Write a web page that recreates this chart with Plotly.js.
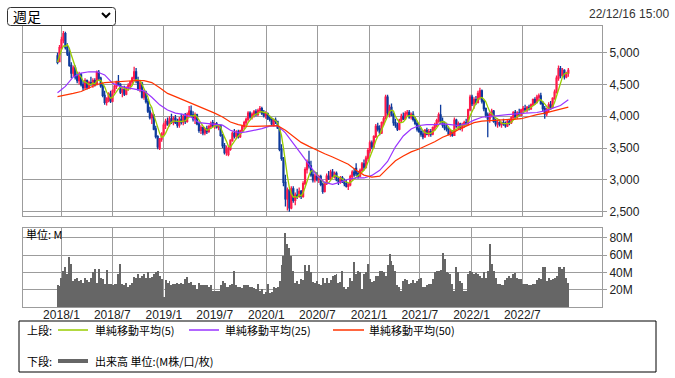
<!DOCTYPE html>
<html><head><meta charset="utf-8">
<script src="https://cdn.plot.ly/plotly-3.0.1.min.js"></script>
<style>html,body{margin:0;padding:0;background:#fff;}#chart{width:675px;height:378px;}</style>
</head><body><div id="chart"></div>
<script>
// ---- data (weekly, first week 2017-12-18) ----
const firstWeek = '2017-12-18';
const openP = [
4950,4860,5080,5200,5300,5080,4980,4800,4680,4760,
4620,4560,4650,4500,4450,4560,4460,4530,4500,4560,
4500,4690,4600,4480,4330,4220,4250,4350,4240,4400,
4470,4550,4500,4380,4420,4350,4450,4480,4540,4600,
4700,4560,4440,4520,4300,4380,4230,4080,3980,4020,
3800,3680,3500,3640,3720,3860,3920,3880,3960,3910,
3970,3900,3860,3950,3910,4000,3920,4030,4080,4020,
3960,4020,3880,3780,3820,3740,3800,3760,3840,3900,
3860,3880,3830,3860,3700,3540,3430,3400,3480,3620,
3730,3690,3750,3680,3770,3840,3900,3950,4050,3990,
4030,4070,4030,4090,4120,4050,4010,4040,3990,3950,
3870,3940,3920,3820,3480,3340,2960,2700,2840,2560,
2860,2680,2760,2740,2820,2740,2940,3160,3280,3220,
3080,3000,3060,3010,3050,2930,2820,2940,3060,3020,
3120,3060,3100,3000,2960,3030,2980,2940,2900,2920,
3050,3120,3180,3100,3060,3150,3250,3200,3340,3460,
3580,3520,3680,3840,3800,3740,3900,3960,4300,4060,
4140,4020,3900,3860,3800,3940,4000,3960,4040,4060,
3990,4030,3950,3890,3800,3760,3720,3680,3780,3720,
3760,3720,3820,3860,3930,4020,3920,3860,3820,3800,
3720,3760,3700,3940,3850,3880,3820,3860,3900,3880,
4100,4300,4200,4260,4220,4300,4400,4240,4120,4020,
3960,4030,4080,3920,3880,3900,3870,3900,3880,3850,
3920,3900,3980,4060,3990,4050,4020,4100,4120,4100,
4140,4120,4180,4260,4220,4300,4320,4200,4120,4040,
4100,4180,4140,4280,4380,4600,4750,4640,4720,4620,
4680];
const highP = [
5000,5120,5250,5340,5330,5150,5050,4850,4800,4800,
4700,4700,4680,4560,4600,4580,4560,4620,4600,4600,
4720,4730,4620,4520,4400,4300,4380,4400,4420,4500,
4560,4650,4520,4440,4480,4470,4520,4560,4620,4780,
4760,4620,4560,4540,4420,4400,4280,4150,4060,4030,
3850,3700,3660,3750,3900,3960,3980,4000,4040,4000,
4020,3960,3990,4040,4020,4050,4060,4160,4170,4080,
4060,4040,3920,3860,3840,3820,3850,3860,3920,3940,
3900,3910,3880,3870,3720,3580,3540,3520,3640,3760,
3800,3780,3790,3790,3860,3930,3980,4080,4080,4060,
4100,4110,4120,4160,4150,4100,4080,4060,4010,3980,
3960,3980,3930,3830,3560,3360,3080,2880,2860,2900,
2900,2800,2860,2880,2840,2980,3200,3320,3460,3300,
3150,3100,3120,3080,3080,2960,2960,3100,3140,3160,
3170,3130,3130,3040,3060,3060,3020,3000,2950,3080,
3150,3180,3260,3140,3180,3280,3320,3380,3500,3620,
3620,3700,3880,3900,3860,3920,4000,4340,4340,4180,
4200,4060,3960,3900,3960,4040,4060,4080,4100,4100,
4060,4080,3990,3930,3880,3820,3780,3800,3820,3800,
3800,3840,3900,3960,4060,4180,3980,3920,3900,3840,
3800,3780,3980,3960,3920,3900,3900,3930,3960,4120,
4340,4340,4300,4320,4400,4450,4420,4260,4140,4060,
4060,4120,4100,3960,3940,3950,3920,3960,3920,3940,
3960,4000,4080,4100,4080,4120,4120,4160,4180,4160,
4180,4200,4280,4300,4340,4360,4370,4240,4160,4140,
4220,4240,4300,4420,4640,4800,4790,4760,4740,4700,
4760];
const lowP = [
4820,4850,5050,5150,5050,4950,4780,4600,4620,4580,
4520,4500,4470,4400,4420,4420,4430,4480,4450,4470,
4490,4560,4450,4300,4180,4170,4220,4210,4220,4360,
4430,4480,4350,4300,4320,4330,4400,4420,4500,4560,
4520,4400,4380,4280,4260,4200,4050,3950,3880,3780,
3650,3480,3470,3600,3700,3800,3850,3840,3880,3860,
3880,3820,3820,3870,3860,3880,3900,4000,3980,3920,
3880,3860,3740,3720,3700,3700,3720,3740,3800,3830,
3800,3810,3780,3680,3500,3400,3380,3370,3460,3600,
3650,3640,3650,3660,3740,3800,3860,3920,3960,3950,
3980,4000,4000,4050,4020,3980,3960,3940,3920,3850,
3840,3880,3800,3450,3300,2900,2580,2520,2500,2540,
2640,2600,2700,2720,2700,2720,2920,3100,3180,3050,
2960,2960,2980,2950,2900,2780,2800,2920,3000,3000,
3040,3020,2980,2920,2940,2950,2900,2880,2840,2900,
3000,3050,3060,3020,3040,3120,3150,3180,3300,3420,
3480,3500,3660,3760,3700,3720,3860,3950,4000,3980,
4000,3850,3820,3770,3780,3900,3940,3940,4000,3960,
3950,3920,3860,3760,3740,3680,3640,3660,3700,3680,
3680,3700,3780,3830,3900,3880,3820,3780,3760,3700,
3680,3680,3690,3820,3800,3780,3760,3820,3850,3860,
4080,4160,4120,4180,4200,4260,4200,4080,3980,3670,
3900,3980,3900,3840,3820,3840,3820,3850,3820,3830,
3860,3880,3960,3960,3960,4000,4000,4040,4080,4060,
4090,4100,4160,4180,4200,4240,4180,4080,3960,4000,
4060,4100,4120,4260,4360,4560,4600,4620,4580,4600,
4620];
const closeP = [
4850,5080,5200,5300,5080,4980,4800,4680,4760,4620,
4560,4650,4500,4450,4560,4460,4530,4500,4560,4500,
4690,4600,4480,4330,4220,4280,4350,4240,4400,4470,
4540,4500,4380,4420,4350,4450,4480,4540,4600,4700,
4560,4440,4520,4300,4380,4230,4080,3980,4020,3800,
3680,3520,3640,3720,3860,3920,3880,3960,3910,3970,
3900,3860,3950,3910,4000,3920,4030,4080,4020,3960,
4020,3880,3780,3820,3740,3800,3760,3840,3880,3860,
3880,3830,3860,3700,3540,3430,3500,3480,3620,3730,
3690,3750,3680,3770,3840,3900,3950,4050,3990,4030,
4070,4030,4090,4120,4050,4010,4040,3970,3950,3880,
3940,3920,3820,3480,3340,2960,2700,2840,2560,2860,
2680,2760,2740,2820,2740,2940,3160,3280,3220,3080,
3000,3060,3010,3050,2930,2820,2940,3060,3020,3120,
3060,3100,3000,2960,3030,2980,2940,2900,2920,3050,
3120,3080,3100,3060,3150,3250,3200,3340,3460,3580,
3520,3680,3840,3800,3740,3900,3960,4300,4060,4140,
4020,3900,3860,3800,3940,4000,3960,4040,4060,3990,
4030,3950,3890,3800,3760,3720,3680,3780,3720,3760,
3720,3820,3860,3930,4020,3920,3860,3820,3800,3720,
3760,3700,3940,3850,3880,3820,3860,3900,3880,4100,
4300,4200,4260,4220,4360,4400,4240,4120,4020,3960,
4030,4080,3920,3880,3900,3870,3900,3880,3850,3920,
3900,3980,4060,3990,4050,4020,4100,4120,4100,4140,
4120,4180,4260,4220,4300,4320,4200,4120,4040,4100,
4180,4140,4280,4380,4600,4750,4640,4720,4620,4680,
4720];
// volume, millions
const volumeM = [
25,24,34,42,46,38,58,50,30,32,
33,30,31,28,33,31,29,34,40,44,
28,44,34,32,27,43,27,27,26,27,
27,38,50,27,25,28,23,25,28,35,
34,38,33,36,38,33,40,34,35,38,
41,42,36,32,12,31,28,30,26,27,
27,28,27,28,27,32,35,28,29,26,
25,21,28,25,25,25,25,23,25,19,
19,19,18,25,30,28,23,23,25,27,
42,25,23,23,22,25,26,25,23,23,
22,21,27,19,21,15,17,27,16,17,
23,22,23,30,48,59,86,73,68,59,
42,28,30,27,32,31,48,42,48,40,
29,28,30,27,25,34,28,33,28,31,
36,37,38,28,29,42,23,21,23,34,
30,52,38,42,40,21,38,40,50,32,
29,30,36,36,42,42,41,36,48,61,
53,48,42,25,23,19,30,32,31,27,
28,31,28,30,32,34,23,23,25,27,
27,32,40,42,42,43,62,55,40,39,
38,27,19,46,40,30,28,19,19,38,
42,41,38,39,38,36,34,40,33,42,
73,50,42,34,27,27,25,26,31,34,
36,34,38,39,34,32,32,27,27,27,
25,25,27,27,31,34,32,46,46,30,
34,31,32,34,36,46,46,44,46,34,
28];
// moving averages, one value every 4 weeks
const ma25Sampled = [
4370,4470,4620,4680,4700,4700,4650,4520,4470,4450,
4430,4400,4300,4180,4100,4050,4030,3990,3900,3885,
3880,3860,3780,3740,3755,3775,3805,3845,3853,3740,
3565,3410,3240,3070,2960,2930,2965,3010,3030,3030,
3070,3150,3290,3520,3690,3800,3855,3870,3870,3880,
3870,3855,3880,3940,3985,4000,4010,4020,4035,4045,
4053,4060,4085,4125,4170,4260];
const ma50Sampled = [
4310,4330,4360,4390,4440,4500,4530,4540,4550,4560,
4563,4560,4530,4450,4360,4310,4260,4210,4160,4100,
4050,3990,3910,3870,3845,3843,3848,3853,3853,3780,
3690,3590,3527,3465,3410,3360,3305,3245,3150,3075,
3045,3060,3180,3300,3375,3440,3485,3540,3600,3670,
3720,3790,3848,3900,3925,3930,3938,3948,3953,3962,
3998,4025,4050,4080,4110,4145];
const xTickVals = ['2018-01-01','2018-07-01','2019-01-01','2019-07-01','2020-01-01','2020-07-01','2021-01-01','2021-07-01','2022-01-01','2022-07-01'];
const xTickText = ['2018/1','2018/7','2019/1','2019/7','2020/1','2020/7','2021/1','2021/7','2022/1','2022/7'];
const priceTicks = [2500,3000,3500,4000,4500,5000];
const volTicks = [20,40,60,80];
const volTickText = ['20M','40M','60M','80M'];

// ---- derived ----
const t0 = Date.parse(firstWeek + 'T00:00:00Z');
const weeks = closeP.map((_, i) => new Date(t0 + i * 7 * 86400000).toISOString().slice(0, 10));
const ma5 = closeP.map((_, i) => { const w = closeP.slice(Math.max(0, i - 4), i + 1); return w.reduce((a, b) => a + b, 0) / w.length; });
const maDates = weeks.filter((_, i) => i % 4 === 0);

// ---- layout helpers ----
const W = 675, H = 378;
const px = x => x / W, py = y => 1 - y / H;
const RED = '#ff1a4a', BLUE = '#0d3a9c';
const GRID = '#9c9c9c';
const FONT = 'Liberation Sans, Arial, Noto Sans CJK JP, sans-serif';
const JFONT = 'Noto Sans CJK JP, Liberation Sans, sans-serif';

const traces = [
  { type: 'candlestick', x: weeks, open: openP, high: highP, low: lowP, close: closeP,
    xaxis: 'x', yaxis: 'y', whiskerwidth: 0, hoverinfo: 'skip',
    increasing: { line: { color: RED, width: 1.3 }, fillcolor: RED },
    decreasing: { line: { color: BLUE, width: 1.3 }, fillcolor: BLUE } },
  { type: 'scatter', mode: 'lines', x: weeks, y: ma5, xaxis: 'x', yaxis: 'y', line: { color: '#99cc00', width: 1.3 }, hoverinfo: 'skip' },
  { type: 'scatter', mode: 'lines', x: maDates, y: ma25Sampled, xaxis: 'x', yaxis: 'y', line: { color: '#9933ff', width: 1.2 }, hoverinfo: 'skip' },
  { type: 'scatter', mode: 'lines', x: maDates, y: ma50Sampled, xaxis: 'x', yaxis: 'y', line: { color: '#ff3300', width: 1.2 }, hoverinfo: 'skip' },
  { type: 'bar', x: weeks, y: volumeM, xaxis: 'x2', yaxis: 'y2', marker: { color: '#666666', line: { width: 0 } }, hoverinfo: 'skip' }
];

function roundRect(x0, y0, x1, y1, r) {
  const p = (x, y) => px(x) + ',' + py(y);
  return 'M' + p(x0 + r, y0) + ' L' + p(x1 - r, y0) + ' Q' + p(x1, y0) + ' ' + p(x1, y0 + r) +
    ' L' + p(x1, y1 - r) + ' Q' + p(x1, y1) + ' ' + p(x1 - r, y1) +
    ' L' + p(x0 + r, y1) + ' Q' + p(x0, y1) + ' ' + p(x0, y1 - r) +
    ' L' + p(x0, y0 + r) + ' Q' + p(x0, y0) + ' ' + p(x0 + r, y0) + ' Z';
}
const hline = (x0, x1, y, color, w) => ({ type: 'line', xref: 'paper', yref: 'paper', x0: px(x0), x1: px(x1), y0: py(y), y1: py(y), line: { color: color, width: w } });
const txt = (x, y, s, size, anchor, color, fam) => ({ xref: 'paper', yref: 'paper', x: px(x), y: py(y), text: s, showarrow: false, xanchor: anchor || 'left', yanchor: 'middle', font: { size: size, color: color || '#000', family: fam || JFONT } });

const axisCommon = { showline: true, mirror: true, linecolor: GRID, linewidth: 1, showgrid: true, gridcolor: GRID, gridwidth: 1, zeroline: false, fixedrange: true };
const xRange = ['2017-08-17', '2023-04-11'];

const layout = {
  width: W, height: H, autosize: false,
  margin: { l: 0, r: 0, t: 0, b: 0 },
  paper_bgcolor: '#fff', plot_bgcolor: '#fff',
  showlegend: false, bargap: 0,
  font: { family: FONT, size: 12, color: '#222' },
  xaxis: Object.assign({}, axisCommon, { type: 'date', domain: [px(23), px(602)], anchor: 'y', range: xRange,
    tickmode: 'array', tickvals: xTickVals, ticktext: xTickText, showticklabels: false, ticks: '', rangeslider: { visible: false } }),
  yaxis: Object.assign({}, axisCommon, { domain: [py(216), py(26)], anchor: 'x', range: [2432, 5420], side: 'right',
    tickmode: 'array', tickvals: priceTicks, tickformat: ',d', ticks: 'outside', ticklen: 4, tickcolor: GRID,
    tickfont: { family: FONT, size: 12, color: '#222' } }),
  xaxis2: Object.assign({}, axisCommon, { type: 'date', domain: [px(23), px(602)], anchor: 'y2', range: xRange,
    tickmode: 'array', tickvals: xTickVals, ticktext: xTickText, ticks: '', ticklabelstandoff: -3,
    tickfont: { family: FONT, size: 12, color: '#222' } }),
  yaxis2: Object.assign({}, axisCommon, { domain: [py(307), py(228)], anchor: 'x2', range: [0, 91.3], side: 'right',
    tickmode: 'array', tickvals: volTicks, ticktext: volTickText, ticks: 'outside', ticklen: 4, tickcolor: GRID,
    tickfont: { family: FONT, size: 12, color: '#222' } }),
  shapes: [
    { type: 'path', xref: 'paper', yref: 'paper', path: roundRect(7.5, 7.5, 115.5, 25.5, 3), line: { color: '#333', width: 1 }, fillcolor: '#fff' },
    { type: 'path', xref: 'paper', yref: 'paper', path: 'M' + px(102) + ',' + py(13) + ' L' + px(106) + ',' + py(17) + ' L' + px(110) + ',' + py(13), line: { color: '#000', width: 2 } },
    { type: 'rect', xref: 'paper', yref: 'paper', x0: px(19), x1: px(656), y0: py(321), y1: py(372), line: { color: '#000', width: 1 }, fillcolor: 'rgba(0,0,0,0)' },
    hline(58, 88, 330, '#99cc00', 1.5),
    hline(189, 219, 330, '#9933ff', 1.5),
    hline(333, 364, 330, '#ff3300', 1.5),
    hline(58, 88, 361, '#666666', 4)
  ],
  annotations: [
    txt(11, 16, '週足', 14, 'left', '#000'),
    txt(671, 14, '22/12/16 15:00', 12, 'right', '#333', FONT),
    txt(24, 234, '単位: M', 11, 'left', '#000'),
    txt(25, 330, '上段:', 11, 'left', '#000'),
    txt(93, 330, '単純移動平均(5)', 11, 'left', '#000'),
    txt(223, 330, '単純移動平均(25)', 11, 'left', '#000'),
    txt(367, 330, '単純移動平均(50)', 11, 'left', '#000'),
    txt(25, 361, '下段:', 11, 'left', '#000'),
    txt(93, 361, '出来高 単位:(M株/口/枚)', 11, 'left', '#000')
  ]
};

Plotly.newPlot('chart', traces, layout, { staticPlot: true, displayModeBar: false });
</script>
</body></html>
